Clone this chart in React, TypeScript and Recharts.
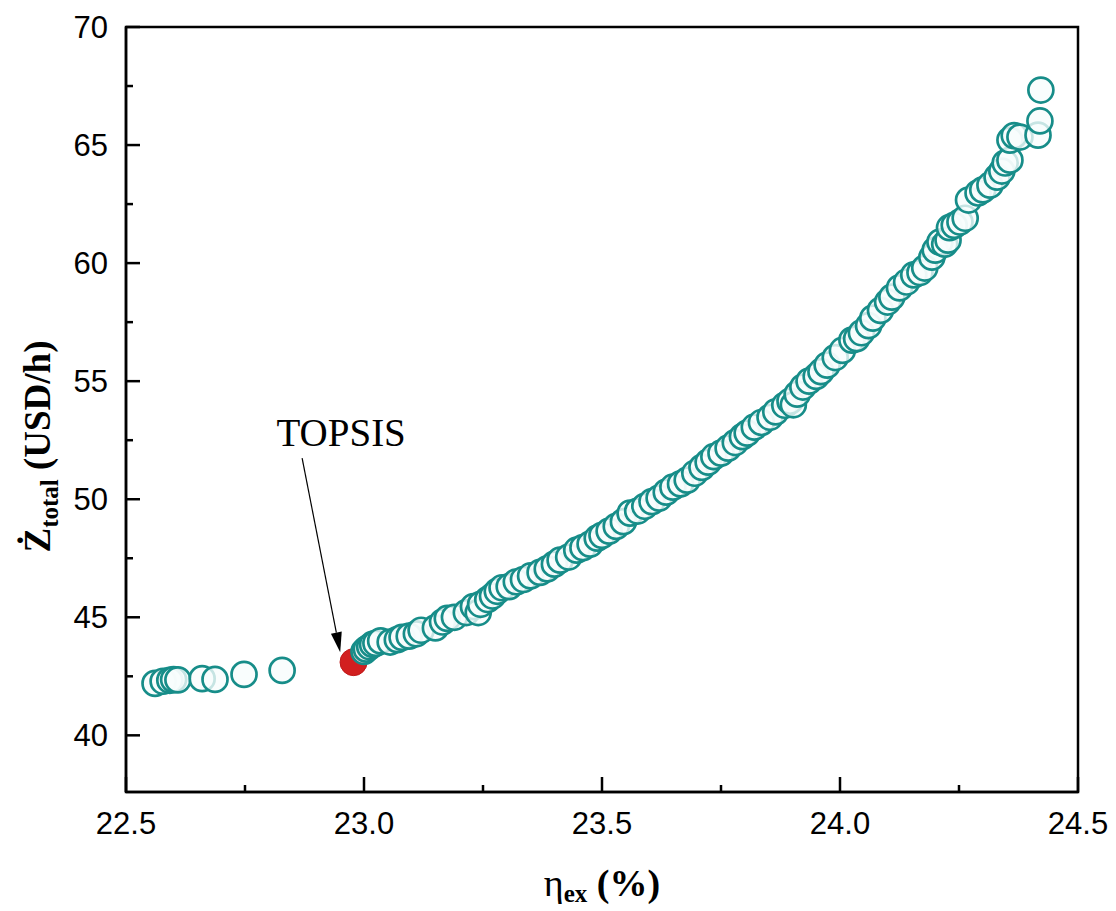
import {
  ScatterChart, Scatter, XAxis, YAxis, ReferenceArea, ReferenceLine, ReferenceDot,
} from 'recharts';

// left-hand group of solutions (low efficiency, low cost)
const lowEta = [22.561, 22.578, 22.592, 22.600, 22.609, 22.660, 22.687, 22.748, 22.828];
const lowCost = [42.20, 42.29, 42.33, 42.36, 42.35, 42.40, 42.37, 42.58, 42.75];

// main Pareto branch
const mainEta = [
  23.000, 23.005, 23.012, 23.018, 23.025, 23.035, 23.055, 23.070, 23.080, 23.095,
  23.110, 23.120, 23.150, 23.165, 23.175, 23.190, 23.215, 23.230, 23.240, 23.245,
  23.260, 23.270, 23.280, 23.290, 23.305, 23.320, 23.335, 23.350, 23.370, 23.385,
  23.400, 23.412, 23.430, 23.447, 23.460, 23.475, 23.490, 23.500, 23.515, 23.530,
  23.545, 23.559, 23.575, 23.590, 23.605, 23.620, 23.635, 23.649, 23.665, 23.679,
  23.695, 23.710, 23.723, 23.735, 23.750, 23.765, 23.780, 23.795, 23.805, 23.820,
  23.835, 23.853, 23.865, 23.884, 23.895, 23.902, 23.910, 23.922, 23.935, 23.950,
  23.960, 23.973, 23.990, 24.005, 24.025, 24.035, 24.045, 24.060, 24.069, 24.085,
  24.100, 24.109, 24.125, 24.140, 24.155, 24.168, 24.178, 24.193, 24.200, 24.210,
  24.220, 24.227, 24.230, 24.240, 24.252, 24.263, 24.270, 24.290, 24.300, 24.315,
  24.330, 24.340, 24.347, 24.357, 24.357, 24.366, 24.378, 24.416, 24.420, 24.422,
];
const mainCost = [
  43.55, 43.65, 43.75, 43.85, 43.90, 44.00, 43.95, 44.05, 44.15, 44.20,
  44.30, 44.45, 44.55, 44.80, 44.95, 45.00, 45.20, 45.45, 45.20, 45.55,
  45.75, 45.90, 46.10, 46.25, 46.30, 46.50, 46.60, 46.75, 46.90, 47.05,
  47.25, 47.42, 47.55, 47.84, 47.95, 48.10, 48.35, 48.47, 48.65, 48.85,
  49.05, 49.41, 49.50, 49.70, 49.90, 50.05, 50.30, 50.51, 50.65, 50.81,
  51.10, 51.35, 51.57, 51.80, 51.95, 52.16, 52.40, 52.65, 52.80, 53.05,
  53.25, 53.47, 53.70, 53.98, 54.15, 54.00, 54.45, 54.75, 55.00, 55.20,
  55.40, 55.68, 56.00, 56.30, 56.74, 56.80, 57.05, 57.35, 57.67, 58.00,
  58.35, 58.56, 58.95, 59.20, 59.50, 59.60, 59.79, 60.25, 60.55, 60.89,
  60.80, 60.97, 61.50, 61.60, 61.74, 61.90, 62.67, 62.97, 63.10, 63.30,
  63.64, 63.90, 64.24, 64.36, 65.21, 65.40, 65.34, 65.42, 66.02, 67.33,
];

// TOPSIS-selected solution
const topsisEta = [22.978];
const topsisCost = [43.10];

const xTicks = [22.5, 22.75, 23.0, 23.25, 23.5, 23.75, 24.0, 24.25, 24.5];
const xMajor = [22.5, 23.0, 23.5, 24.0, 24.5];
const yTicks = [40, 42.5, 45, 47.5, 50, 52.5, 55, 57.5, 60, 62.5, 65, 67.5, 70];
const yMajor = [40, 45, 50, 55, 60, 65, 70];

const lowData = lowEta.map((x, i) => ({ x, y: lowCost[i] }));
const mainData = mainEta.map((x, i) => ({ x, y: mainCost[i] }));
const topsisData = topsisEta.map((x, i) => ({ x, y: topsisCost[i] }));

const SANS = '"Liberation Sans", Arial, sans-serif';
const SERIF = '"Liberation Serif", "Times New Roman", serif';
const TEAL = '#178d89';

const ring = (p: any) => (
  <circle cx={p.cx} cy={p.cy} r={12.5} fill="#f7fcfc" fillOpacity={0.78} stroke={TEAL} strokeWidth={2.7} />
);
const redDot = (p: any) => (
  <circle cx={p.cx} cy={p.cy} r={13.5} fill="#d21f1f" stroke="#c01818" strokeWidth={1} />
);

const XTick = (p: any) => {
  const major = xMajor.includes(p.payload.value);
  return (
    <g>
      <line x1={p.x} x2={p.x} y1={p.y} y2={p.y - (major ? 15 : 7)} stroke="#000" strokeWidth={2.5} />
      {major && (
        <text x={p.x} y={p.y + 42} textAnchor="middle" fontFamily={SANS} fontSize={31} fill="#000">
          {p.payload.value.toFixed(1)}
        </text>
      )}
    </g>
  );
};

const YTick = (p: any) => {
  const major = yMajor.includes(p.payload.value);
  return (
    <g>
      <line x1={p.x} x2={p.x + (major ? 14 : 7)} y1={p.y} y2={p.y} stroke="#000" strokeWidth={2.5} />
      {major && (
        <text x={p.x - 18} y={p.y + 11} textAnchor="end" fontFamily={SANS} fontSize={31} fill="#000">
          {p.payload.value}
        </text>
      )}
    </g>
  );
};

const XTitle = (p: any) => {
  const vb = p.viewBox;
  const cx = vb.x + vb.width / 2;
  const cy = vb.y + 104;
  return (
    <text x={cx} y={cy} textAnchor="middle" fontFamily={SERIF} fontSize={38} fill="#000">
      <tspan>η</tspan>
      <tspan dy={6} fontSize={25} fontWeight="bold">ex</tspan>
      <tspan dy={-6} fontWeight="bold"> (%)</tspan>
    </text>
  );
};

const YTitle = (p: any) => {
  const vb = p.viewBox;
  const cx = 50;
  const cy = vb.y + vb.height / 2 + 37;
  return (
    <text x={cx} y={cy} transform={`rotate(-90, ${cx}, ${cy})`} textAnchor="middle"
      fontFamily={SERIF} fontSize={37} fontWeight="bold" fill="#000">
      <tspan>Ż</tspan>
      <tspan dy={8} fontSize={25}>total</tspan>
      <tspan dy={-8}> (USD/h)</tspan>
    </text>
  );
};

const arrow = (p: any) => {
  const { x1, y1, x2, y2 } = p;
  const a = Math.atan2(y2 - y1, x2 - x1);
  const len = 20, half = 5.5;
  const bx = x2 - len * Math.cos(a), by = y2 - len * Math.sin(a);
  const nx = -Math.sin(a) * half, ny = Math.cos(a) * half;
  return (
    <g>
      <line x1={x1} y1={y1} x2={bx} y2={by} stroke="#000" strokeWidth={1.2} />
      <polygon points={`${x2},${y2} ${bx + nx},${by + ny} ${bx - nx},${by - ny}`} fill="#000" />
    </g>
  );
};

const topsisText = (p: any) => (
  <text x={p.cx} y={p.cy} textAnchor="middle" fontFamily={SERIF} fontSize={39} fill="#000">TOPSIS</text>
);

export default function App() {
  return (
    <div style={{ position: 'absolute', left: 0, top: 0, width: 1116, height: 911, background: '#fff' }}>
      <ScatterChart width={1116} height={911} margin={{ top: 27, right: 38, bottom: 0, left: 0 }}>
        <XAxis
          type="number" dataKey="x" domain={[22.5, 24.5]} ticks={xTicks} interval={0}
          height={119} tickSize={0} tickMargin={0} tickLine={false}
          axisLine={{ stroke: '#000', strokeWidth: 2.5 }} tick={<XTick />}
          label={(p: any) => <XTitle {...p} />}
        />
        <YAxis
          type="number" dataKey="y" domain={[37.6, 70]} ticks={yTicks} interval={0}
          width={126} tickSize={0} tickMargin={0} tickLine={false}
          axisLine={{ stroke: '#000', strokeWidth: 2.5 }} tick={<YTick />}
          label={(p: any) => <YTitle {...p} />}
        />
        <ReferenceArea x1={22.5} x2={24.5} y1={37.6} y2={70} fill="none" fillOpacity={0}
          stroke="#000" strokeOpacity={1} strokeWidth={2.5} />
        <Scatter data={topsisData} shape={redDot} isAnimationActive={false} />
        <Scatter data={lowData} shape={ring} isAnimationActive={false} />
        <Scatter data={mainData} shape={ring} isAnimationActive={false} />
        <ReferenceLine segment={[{ x: 22.870, y: 51.74 }, { x: 22.950, y: 43.52 }]} shape={arrow} />
        <ReferenceDot x={22.952} y={52.25} shape={topsisText} />
      </ScatterChart>
    </div>
  );
}
